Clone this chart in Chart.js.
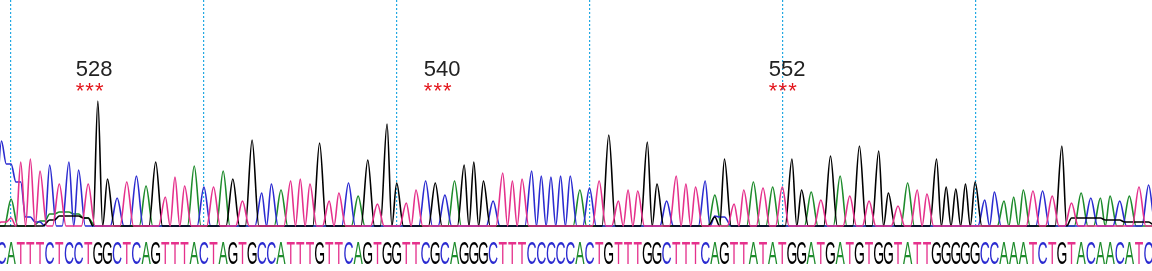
<!DOCTYPE html>
<html lang="en">
<head>
<meta charset="UTF-8">
<title>Sequence trace</title>
<script src="https://cdn.jsdelivr.net/npm/chart.js"></script>
<style>
    html, body {
        margin: 0;
        padding: 0;
        background: #fff;
    }
    #wrap {
        width: 1152px;
        height: 271px;
    }
</style>
</head>
<body>
<div id="wrap"><canvas id="trace" width="1152" height="271"></canvas></div>
<script>
    // base calls, left to right
    const sequence = 'CATTTCTCCTGGCTCAGTTTACTAGTGCCATTTGTTCAGTGGTTCGCAGGGCTTTCCCCCACTGTTTGGCTTTCAGTTATATGGATGATGTGGTATTGGGGGCCAAATCTGTACAACATC';

    // peak height of the called base, one per base
    const peakHeights = [
        85, 27, 64, 67, 55, 61, 42, 64, 56, 42,
        125, 47, 28, 44, 50, 40, 64, 29, 49, 40,
        60, 39, 39, 55, 47, 25, 86, 33, 42, 36,
        45, 47, 42, 83, 25, 33, 43, 30, 66, 22,
        102, 43, 23, 36, 45, 43, 31, 45, 61, 64,
        45, 25, 53, 45, 47, 55, 50, 49, 50, 50,
        36, 38, 45, 91, 25, 36, 35, 84, 42, 25,
        50, 42, 39, 45, 31, 67, 22, 36, 44, 38,
        39, 39, 67, 36, 34, 26, 70, 50, 30, 80,
        25, 75, 33, 20, 43, 36, 32, 67, 39, 37,
        42, 44, 26, 34, 25, 29, 36, 35, 35, 30,
        80, 23, 33, 28, 28, 30, 25, 30, 39, 41
    ];

    // background signal per channel: [base index, level]
    const extraA = [[4, 5], [5, 12], [6, 14], [7, 14], [8, 12], [9, 8]];
    const extraC = [[0, 85], [1, 62], [2, 44], [3, 9], [4, 4], [74, 10], [75, 9]];
    const extraG = [[5, 6], [6, 10], [7, 10], [8, 10], [9, 8], [74, 9],
        [111, 8], [112, 8], [113, 8], [114, 8], [115, 6], [116, 6], [117, 4], [118, 4], [119, 4]];
    const extraT = [[0, 4], [1, 8]];

    // dotted position lines
    const gridBases = [1, 21, 41, 61, 81, 101];

    // numbered marks with their *** row
    const markLabels = ['528', '540', '552'];
    const markBases = [7.7, 43.8, 79.6];

    const channelColors = { A: '#1d8b2b', C: '#2b2bd0', G: '#000000', T: '#e5318c' };
    const halfWidth = 0.7;

    function buildTrace(ch, extras) {
        const n = sequence.length;
        const bg = new Array(n).fill(0);
        extras.forEach(([i, v]) => { bg[i] = v; });
        const val = i => (sequence[i] === ch ? Math.max(peakHeights[i], bg[i]) : bg[i]);
        const active = i => i >= 0 && i < n && val(i) > 0;

        const pts = [{ x: -1, y: 0 }];
        for (let i = 0; i < n; i++) {
            if (!active(i)) continue;
            if (!active(i - 1)) pts.push({ x: i - halfWidth, y: 0 });
            pts.push({ x: i, y: val(i) });
            if (active(i + 1)) {
                pts.push({ x: i + 0.5, y: Math.min(bg[i], bg[i + 1]) });
            } else {
                pts.push({ x: i + halfWidth, y: 0 });
            }
        }
        pts.push({ x: n, y: 0 });
        return pts;
    }

    function traceSet(ch, extras) {
        return {
            label: ch,
            data: buildTrace(ch, extras),
            borderColor: channelColors[ch],
            borderWidth: 1.6,
            pointRadius: 0,
            fill: false,
            cubicInterpolationMode: 'monotone'
        };
    }

    // letters, numbers and stars drawn on top
    const annotations = {
        id: 'annotations',
        afterDraw(chart) {
            const ctx = chart.ctx;
            const xs = chart.scales.x;
            ctx.save();

            ctx.font = '31px "Liberation Sans", Arial, sans-serif';
            ctx.textAlign = 'center';
            ctx.textBaseline = 'alphabetic';
            for (let i = 0; i < sequence.length; i++) {
                const x = xs.getPixelForValue(i);
                ctx.save();
                ctx.translate(x, 264);
                ctx.scale(0.45, 1);
                ctx.fillStyle = channelColors[sequence[i]];
                ctx.fillText(sequence[i], 0, 0);
                ctx.restore();
            }

            ctx.textAlign = 'left';
            ctx.font = '22px "Liberation Sans", Arial, sans-serif';
            ctx.fillStyle = '#222';
            markLabels.forEach((txt, k) => {
                ctx.fillText(txt, xs.getPixelForValue(markBases[k]), 76);
            });

            ctx.textAlign = 'center';
            ctx.fillStyle = '#e3161c';
            markBases.forEach(b => {
                for (let j = 0; j < 3; j++) {
                    ctx.fillText('*', xs.getPixelForValue(b + 0.45 + j), 98);
                }
            });

            ctx.restore();
        }
    };

    new Chart(document.getElementById('trace'), {
        type: 'line',
        data: {
            datasets: [
                traceSet('T', extraT),
                traceSet('G', extraG),
                traceSet('C', extraC),
                traceSet('A', extraA)
            ]
        },
        options: {
            responsive: false,
            animation: false,
            layout: { padding: { left: 0, right: 0, top: 0, bottom: 44 } },
            plugins: { legend: { display: false }, tooltip: { enabled: false } },
            scales: {
                x: {
                    type: 'linear',
                    min: -0.15,
                    max: 119.35,
                    afterBuildTicks: axis => {
                        axis.ticks = gridBases.map(v => ({ value: v }));
                    },
                    ticks: { display: false },
                    grid: { color: '#22a8e2', lineWidth: 1.2, drawTicks: false },
                    border: { display: false, dash: [2, 2] }
                },
                y: {
                    display: false,
                    min: -1,
                    max: 226
                }
            }
        },
        plugins: [annotations]
    });
</script>
</body>
</html>
